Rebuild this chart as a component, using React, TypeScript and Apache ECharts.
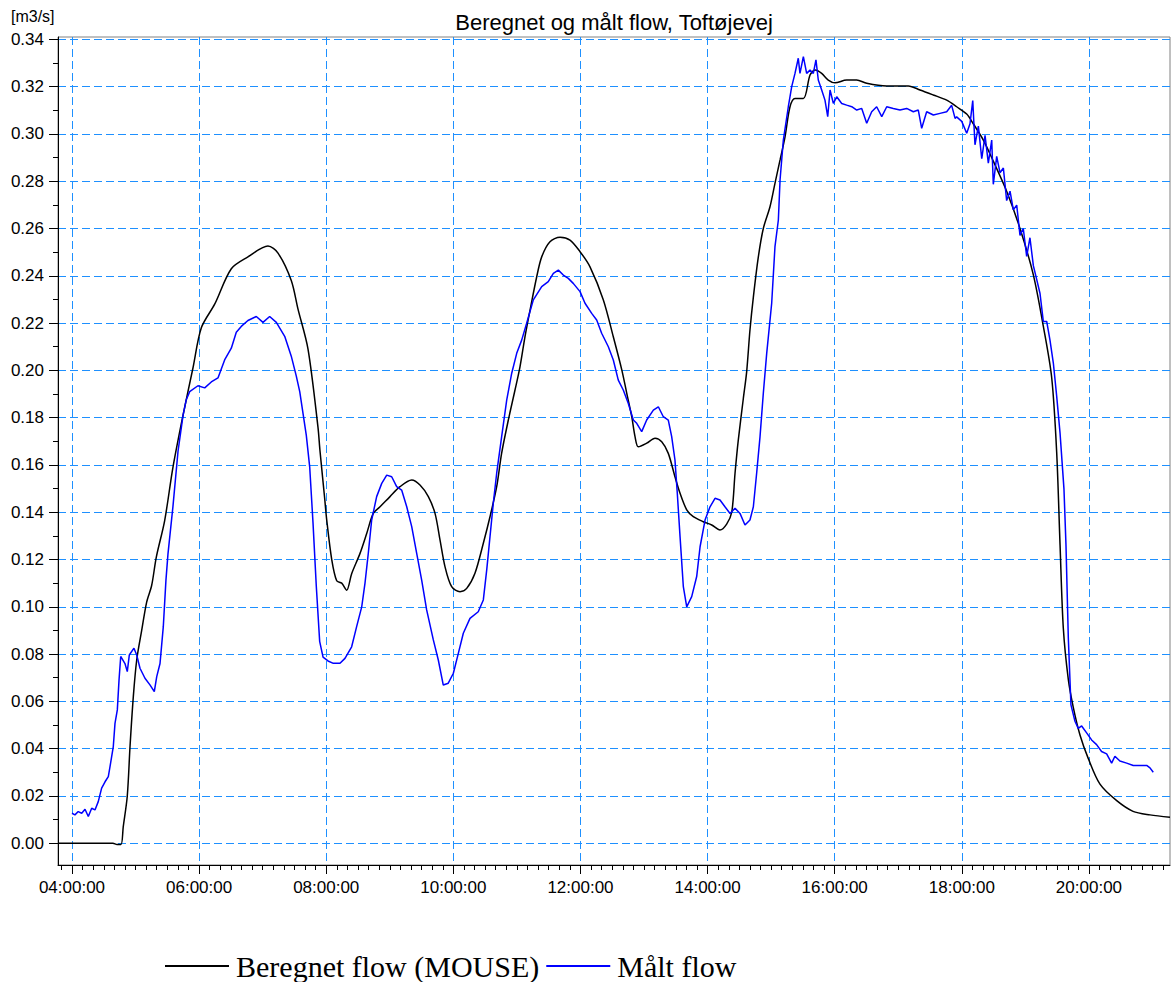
import { useEffect, useRef } from "react";
import * as echarts from "echarts";

const TITLE = "Beregnet og målt flow, Toftøjevej";
const UNIT = "[m3/s]";
const NAME_BEREGNET = "Beregnet flow (MOUSE)";
const NAME_MAALT = "Målt flow";

// [minutes after midnight, flow m3/s]
const beregnetFlow: [number, number][] = [
  [227, 0], [278.7, 0], [282.5, -0.0005], [286.3, -0.0005], [288.4, 0.007], [292.2, 0.02],
  [294.8, 0.041], [297.9, 0.062], [301.1, 0.0775], [305.8, 0.09], [310.5, 0.102], [315.2, 0.109],
  [319.6, 0.121], [327.5, 0.1365], [335.3, 0.159], [344.8, 0.181], [354.2, 0.201], [362.1, 0.218],
  [374.7, 0.228], [390.4, 0.243], [406.1, 0.248], [425, 0.2526], [434.5, 0.2496], [447, 0.238],
  [453.3, 0.226], [462.8, 0.209], [472.2, 0.176], [474.1, 0.166], [478.5, 0.146], [480.4, 0.137],
  [485.2, 0.12], [489.9, 0.111], [494.6, 0.11], [499.3, 0.107], [504, 0.114], [511.9, 0.1226],
  [518.2, 0.131], [524.4, 0.1395], [530.8, 0.1423], [540.2, 0.1466], [549.6, 0.1508], [560.7, 0.1536],
  [568.5, 0.1515], [576.4, 0.1466], [582.7, 0.1395], [587.4, 0.1283], [592.1, 0.117], [598.4, 0.1085],
  [606.3, 0.1064], [612.6, 0.1078], [620.4, 0.1142], [628.3, 0.1269], [634.6, 0.1381], [640.9, 0.1508],
  [645.6, 0.165], [651.9, 0.179], [658.2, 0.1917], [662.9, 0.2015], [667.6, 0.2142], [672.4, 0.2255],
  [678.7, 0.2396], [683.4, 0.248], [691.2, 0.2544], [700.7, 0.2563], [710.1, 0.2551], [719.6, 0.2502],
  [729, 0.2438], [741.6, 0.2298], [751, 0.2142], [759, 0.2002], [763.7, 0.1903], [768.4, 0.1804],
  [771.5, 0.172], [774.6, 0.1677], [782.5, 0.1692], [790.4, 0.1713], [796.7, 0.1698], [802.9, 0.1649],
  [809.2, 0.155], [814, 0.148], [820.3, 0.141], [826.5, 0.1381], [835.9, 0.136], [843.9, 0.1346],
  [851.7, 0.1325], [858, 0.135], [862.8, 0.14], [865.9, 0.1565], [869, 0.1706], [873.7, 0.188],
  [876.9, 0.1995], [880, 0.2171], [883.2, 0.231], [887.9, 0.248], [892.6, 0.26], [898.9, 0.2692],
  [903.6, 0.2791], [908.4, 0.289], [913.1, 0.2988], [917.8, 0.3115], [922.5, 0.315], [930.4, 0.315],
  [936.7, 0.3249], [941.4, 0.327], [947.7, 0.3256], [953.9, 0.3228], [960.3, 0.3216], [971.3, 0.3228],
  [980.7, 0.3228], [990.2, 0.3214], [1009, 0.3203], [1029.5, 0.3203], [1040.5, 0.3186], [1053, 0.3165],
  [1065.7, 0.3143], [1075.1, 0.3115], [1084.6, 0.3084], [1090.8, 0.3043], [1100.3, 0.2974],
  [1109.7, 0.2885], [1122.3, 0.2758], [1134.9, 0.26], [1147.5, 0.2404], [1156.9, 0.2187],
  [1164.8, 0.197], [1169.5, 0.1656], [1172.7, 0.1263], [1175.8, 0.0909], [1180.5, 0.0693],
  [1185.2, 0.0575], [1191.6, 0.0457], [1199.4, 0.0358], [1210.4, 0.025], [1226.2, 0.018],
  [1241.6, 0.0135], [1257.6, 0.012], [1276.5, 0.011],
];

const maaltFlow: [number, number][] = [
  [240, 0.0127], [242.8, 0.012], [245.9, 0.0134], [249.2, 0.0127], [252.3, 0.0144], [255.4, 0.0113],
  [258.6, 0.0148], [261.7, 0.0141], [264.8, 0.0176], [268, 0.0233], [271.2, 0.026], [274.3, 0.0282],
  [275.9, 0.0324], [279, 0.0409], [280.6, 0.0507], [282.8, 0.0564], [284.4, 0.069], [286, 0.079],
  [290, 0.076], [292.2, 0.0726], [294.1, 0.0796], [298.5, 0.0825], [301.1, 0.0796], [304.2, 0.074],
  [308.9, 0.0698], [313.6, 0.067], [317.7, 0.0641], [320, 0.0705], [323.1, 0.076], [326.2, 0.0916],
  [328.7, 0.1113], [330.6, 0.1223], [335.3, 0.1424], [340.1, 0.1658], [344.8, 0.1809], [347.9, 0.1876],
  [351.1, 0.191], [358.9, 0.1935], [365.3, 0.1926], [371.5, 0.1951], [377.8, 0.1968], [384.1, 0.2044],
  [390.4, 0.2094], [395.1, 0.2161], [399.8, 0.2186], [406.1, 0.2211], [414, 0.2228], [420.3, 0.2203],
  [426.6, 0.2228], [432.9, 0.2203], [440.8, 0.2144], [447, 0.206], [451.7, 0.1977], [455, 0.191],
  [461.2, 0.1725], [464.4, 0.1591], [467.5, 0.1357], [470.6, 0.1089], [473.8, 0.0854], [477, 0.0787],
  [481.7, 0.0771], [486.7, 0.0761], [493, 0.0761], [497.7, 0.0782], [504, 0.0831], [508.7, 0.0916],
  [513.5, 0.1], [516.6, 0.11], [519.7, 0.1226], [522.9, 0.1367], [527.6, 0.1466], [532.4, 0.1522],
  [537.1, 0.1557], [541.8, 0.155], [546.5, 0.1508], [551.2, 0.1494], [556, 0.1423], [560.7, 0.1339],
  [565.4, 0.1226], [570.1, 0.1113], [574.8, 0.0987], [581.1, 0.086], [585.8, 0.0775], [590.5, 0.0669],
  [595.2, 0.0677], [600, 0.0719], [604.7, 0.0803], [609.4, 0.0888], [615.7, 0.0951], [623.5, 0.0979],
  [628.3, 0.1029], [631.5, 0.1156], [634.6, 0.1297], [637.7, 0.1438], [640.9, 0.1565], [645.6, 0.172],
  [650.4, 0.1875], [655.1, 0.1988], [659.8, 0.2072], [664.5, 0.2128], [669.2, 0.2199], [675.5, 0.2298],
  [683.4, 0.2354], [689.6, 0.2375], [694.4, 0.241], [699.1, 0.2424], [703.8, 0.2403], [708.5, 0.2389],
  [713.2, 0.2368], [719.6, 0.2333], [724.3, 0.2284], [730.6, 0.2241], [735.3, 0.2213], [740, 0.2157],
  [746.3, 0.21], [751, 0.2044], [755.7, 0.1959], [760.4, 0.1917], [765.1, 0.1861], [769.9, 0.179],
  [773.1, 0.1776], [777.8, 0.1741], [782.5, 0.179], [788.8, 0.1832], [793.5, 0.1846], [798.2, 0.1804],
  [802.9, 0.179], [806.1, 0.172], [809.2, 0.1621], [811.4, 0.148], [814, 0.1297], [817.1, 0.1085],
  [820.3, 0.1], [825, 0.1043], [829.7, 0.1128], [832.9, 0.1254], [837.6, 0.1367], [842.3, 0.1423],
  [847, 0.1459], [851.7, 0.1452], [856.4, 0.1423], [861.2, 0.1395], [865.9, 0.1417], [870.6, 0.1395],
  [875.3, 0.1346], [880, 0.1367], [883.2, 0.1423], [886.3, 0.1565], [889.5, 0.172], [892.6, 0.1903],
  [895.8, 0.2072], [900.5, 0.2284], [903.6, 0.2523], [906.8, 0.2636], [908.4, 0.2805], [911.5, 0.2974],
  [916.2, 0.3115], [919.4, 0.32], [922.5, 0.3256], [925.6, 0.332], [927.2, 0.3256], [930.4, 0.3327],
  [933.5, 0.3256], [936.7, 0.327], [939.8, 0.3256], [942.3, 0.3313], [944.5, 0.3228], [947.7, 0.3186],
  [950.8, 0.3143], [953.4, 0.3073], [955.6, 0.3186], [958.7, 0.3129], [961.9, 0.3157], [966.6, 0.3129],
  [971.3, 0.3122], [976.1, 0.3115], [980.8, 0.3101], [985.5, 0.3108], [990.2, 0.3045], [994.9, 0.3094],
  [999.6, 0.3115], [1004.4, 0.3073], [1009.1, 0.3115], [1015.3, 0.3108], [1021.6, 0.3101],
  [1027.9, 0.3108], [1034.2, 0.3094], [1038.9, 0.3101], [1042.1, 0.3024], [1046.8, 0.3094],
  [1053.1, 0.308], [1059.4, 0.3087], [1065.7, 0.3094], [1070.4, 0.3121], [1073.6, 0.3066],
  [1075.1, 0.3072], [1079.9, 0.3053], [1084.6, 0.3003], [1087.7, 0.3043], [1090.3, 0.3141],
  [1092.4, 0.2954], [1095.6, 0.3033], [1098.8, 0.2895], [1101.9, 0.2994], [1105, 0.2876],
  [1108.2, 0.2974], [1109.7, 0.2787], [1112.9, 0.2905], [1116, 0.2836], [1119.2, 0.2856],
  [1122.3, 0.2718], [1125.5, 0.2758], [1128.6, 0.2679], [1131.8, 0.2699], [1134.9, 0.2571],
  [1138, 0.26], [1141.2, 0.2482], [1144.3, 0.2561], [1147.5, 0.2443], [1150.7, 0.2384],
  [1153.8, 0.2325], [1156.9, 0.2207], [1160.1, 0.2207], [1163.2, 0.2128], [1166.4, 0.203],
  [1169.5, 0.1892], [1172.7, 0.1735], [1176.4, 0.1499], [1178.3, 0.1263], [1180.5, 0.087],
  [1183, 0.0585], [1186.8, 0.0516], [1189.9, 0.0486], [1193.1, 0.0496], [1197.8, 0.0467],
  [1202.5, 0.0437], [1207.2, 0.0417], [1211.9, 0.0388], [1216.7, 0.0378], [1221.4, 0.0339],
  [1224.5, 0.0368], [1229.2, 0.0348], [1235.6, 0.0339], [1241.8, 0.0329], [1248.2, 0.0329],
  [1254.5, 0.0329], [1257.6, 0.0319], [1260.7, 0.03],
];

// Axis ranges (minutes / m3/s)
const X_RANGE = [226.8, 1276.5];
const Y_RANGE = [-0.0092, 0.341];
const X_MAJOR = [240, 1200, 120];
const X_MINOR = [230, 1270, 10];
const Y_MAJOR = [0, 0.34, 0.02];

const PLOT = { left: 58, top: 37, width: 1112, height: 828 };
const GRID_BLUE = "#1e90ff";
const SANS = "Liberation Sans, Arial, sans-serif";
const SERIF = "Liberation Serif, Times New Roman, serif";

const xPix = (m: number) =>
  PLOT.left + ((m - X_RANGE[0]) / (X_RANGE[1] - X_RANGE[0])) * PLOT.width;
const yPix = (v: number) =>
  PLOT.top + ((Y_RANGE[1] - v) / (Y_RANGE[1] - Y_RANGE[0])) * PLOT.height;

const pad = (n: number) => String(n).padStart(2, "0");
const clock = (m: number) => `${pad(Math.floor(m / 60))}:${pad(Math.round(m % 60))}:00`;

export default function App() {
  const ref = useRef<HTMLDivElement>(null);

  useEffect(() => {
    document.body.style.margin = "0";
    if (!ref.current) return;
    const chart = echarts.init(ref.current, null, { renderer: "svg" });

    const hidden = { show: false };
    const dashed = { show: true, lineStyle: { color: GRID_BLUE, width: 1, type: [8, 4] as number[] } };
    const black = { color: "#000", width: 1 };

    chart.setOption({
      animation: false,
      backgroundColor: "#fff",
      title: [
        {
          text: TITLE,
          left: PLOT.left + PLOT.width / 2,
          textAlign: "center",
          top: 10,
          padding: 0,
          textStyle: { fontFamily: SANS, fontSize: 22, lineHeight: 24, fontWeight: "normal", color: "#000" },
        },
        {
          text: UNIT,
          left: 11,
          top: 8,
          padding: 0,
          textStyle: { fontFamily: SANS, fontSize: 16, fontWeight: "normal", color: "#000" },
        },
      ],
      legend: {
        left: 165,
        top: 951,
        icon: "rect",
        itemWidth: 64,
        itemHeight: 2,
        itemGap: 7,
        padding: 0,
        selectedMode: false,
        textStyle: { fontFamily: SERIF, fontSize: 30, lineHeight: 30, color: "#000", padding: [0, 0, 0, 2] },
        data: [NAME_BEREGNET, NAME_MAALT],
      },
      grid: [
        { ...PLOT, show: true, borderColor: "#808080", borderWidth: 1, backgroundColor: "transparent" },
        { left: xPix(X_MAJOR[0]), width: xPix(X_MAJOR[1]) - xPix(X_MAJOR[0]), top: PLOT.top, height: PLOT.height },
        { left: xPix(X_MINOR[0]), width: xPix(X_MINOR[1]) - xPix(X_MINOR[0]), top: PLOT.top, height: PLOT.height },
        { left: PLOT.left, width: PLOT.width, top: yPix(Y_MAJOR[1]), height: yPix(Y_MAJOR[0]) - yPix(Y_MAJOR[1]) },
      ],
      xAxis: [
        {
          gridIndex: 0, type: "value", min: X_RANGE[0], max: X_RANGE[1],
          axisLine: { show: true, onZero: false, lineStyle: black },
          axisTick: hidden, axisLabel: hidden, splitLine: hidden,
        },
        {
          gridIndex: 1, type: "value", min: X_MAJOR[0], max: X_MAJOR[1], interval: X_MAJOR[2],
          axisLine: hidden,
          axisTick: { show: true, length: 9, lineStyle: black },
          axisLabel: {
            show: true, margin: 14, formatter: (v: number) => clock(v),
            fontFamily: SANS, fontSize: 17, color: "#000",
          },
          splitLine: dashed,
        },
        {
          gridIndex: 2, type: "value", min: X_MINOR[0], max: X_MINOR[1], interval: X_MINOR[2],
          axisLine: hidden,
          axisTick: { show: true, length: 5, lineStyle: black },
          axisLabel: hidden, splitLine: hidden,
        },
        { gridIndex: 3, type: "value", show: false, min: 0, max: 1 },
      ],
      yAxis: [
        {
          gridIndex: 0, type: "value", min: Y_RANGE[0], max: Y_RANGE[1],
          axisLine: { show: true, onZero: false, lineStyle: black },
          axisTick: hidden, axisLabel: hidden, splitLine: hidden,
        },
        { gridIndex: 1, type: "value", show: false, min: 0, max: 1 },
        { gridIndex: 2, type: "value", show: false, min: 0, max: 1 },
        {
          gridIndex: 3, type: "value", min: Y_MAJOR[0], max: Y_MAJOR[1], interval: Y_MAJOR[2],
          axisLine: hidden,
          axisTick: { show: true, length: 9, lineStyle: black },
          minorTick: { show: true, splitNumber: 2, length: 5, lineStyle: black },
          axisLabel: {
            show: true, margin: 14, formatter: (v: number) => v.toFixed(2),
            fontFamily: SANS, fontSize: 17, color: "#000",
          },
          splitLine: dashed,
        },
      ],
      series: [
        {
          name: NAME_BEREGNET, type: "line", xAxisIndex: 0, yAxisIndex: 0,
          data: beregnetFlow, showSymbol: false, symbol: "none", smooth: 0.3,
          lineStyle: { color: "#000000", width: 1.5 }, itemStyle: { color: "#000000" },
        },
        {
          name: NAME_MAALT, type: "line", xAxisIndex: 0, yAxisIndex: 0,
          data: maaltFlow, showSymbol: false, symbol: "none",
          lineStyle: { color: "#0000ff", width: 1.5 }, itemStyle: { color: "#0000ff" },
        },
      ],
    });

    return () => chart.dispose();
  }, []);

  return <div ref={ref} style={{ position: "absolute", left: 0, top: 0, width: 1173, height: 982 }} />;
}
